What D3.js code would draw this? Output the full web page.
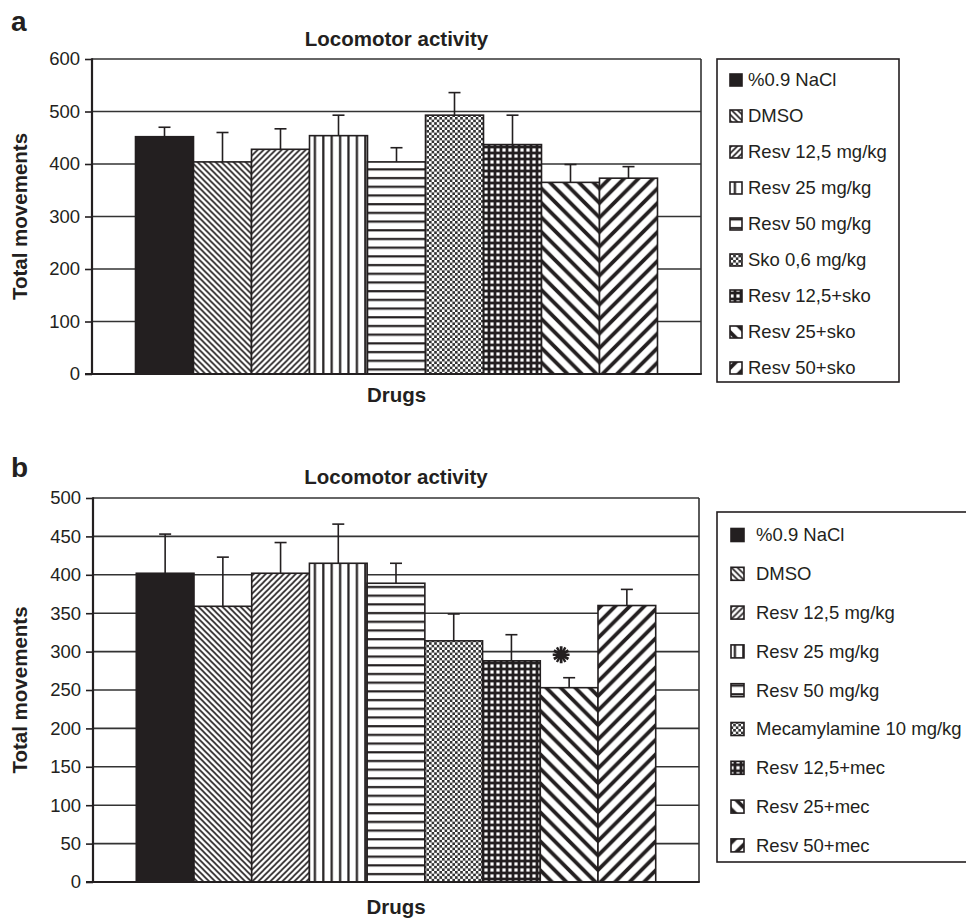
<!DOCTYPE html>
<html><head><meta charset="utf-8">
<script src="https://cdn.jsdelivr.net/npm/d3@7"></script>
<style>body{margin:0;background:#fff}svg{display:block}</style>
</head><body>
<svg id="c" width="966" height="919"></svg>
<script>
// ---------- data ----------
const seriesA = ["%0.9 NaCl","DMSO","Resv 12,5 mg/kg","Resv 25 mg/kg","Resv 50 mg/kg","Sko 0,6 mg/kg","Resv 12,5+sko","Resv 25+sko","Resv 50+sko"];
const valuesA = [452,404,428,454,404,493,437,365,373];
const errorsA = [18,56,39,39,27,43,56,34,22];
const ticksA  = [0,100,200,300,400,500,600];

const seriesB = ["%0.9 NaCl","DMSO","Resv 12,5 mg/kg","Resv 25 mg/kg","Resv 50 mg/kg","Mecamylamine 10 mg/kg","Resv 12,5+mec","Resv 25+mec","Resv 50+mec"];
const valuesB = [402,359,402,415,389,314,288,253,360];
const errorsB = [51,64,40,51,26,35,34,13,21];
const ticksB  = [0,50,100,150,200,250,300,350,400,450,500];
const signifB = [false,false,false,false,false,false,false,true,false];

const chartTitle = "Locomotor activity";
const yTitle = "Total movements";
const xTitle = "Drugs";

// ---------- style ----------
const INK = "#231f20";
const FONT = "Arial, 'Liberation Sans', sans-serif";
const patternKinds = ["solid","down","up","vert","horiz","checker","plus","downWide","upWide"];

const svg = d3.select("#c");
const defs = svg.append("defs");

function makePatterns(prefix, x0, x1) {
  const P = {};
  patternKinds.forEach(k => P[k] = prefix + "-" + k);
  let p = defs.append("pattern").attr("id",P.down).attr("patternUnits","userSpaceOnUse")
    .attr("width",6).attr("height",6).attr("patternTransform",`translate(${x0},0)`);
  p.append("rect").attr("width",6).attr("height",6).attr("fill","#fff");
  p.append("path").attr("d","M-1,-1L7,7M-1,5L1,7M5,-1L7,1").attr("stroke",INK).attr("stroke-width",1.6);
  p = defs.append("pattern").attr("id",P.up).attr("patternUnits","userSpaceOnUse")
    .attr("width",6).attr("height",6).attr("patternTransform",`translate(${x0},0)`);
  p.append("rect").attr("width",6).attr("height",6).attr("fill","#fff");
  p.append("path").attr("d","M-1,7L7,-1M-1,1L1,-1M5,7L7,5").attr("stroke",INK).attr("stroke-width",1.6);
  p = defs.append("pattern").attr("id",P.vert).attr("patternUnits","userSpaceOnUse").attr("width",8.4).attr("height",10);
  p.append("rect").attr("width",8.4).attr("height",10).attr("fill","#fff");
  p.append("rect").attr("x",3).attr("width",2.2).attr("height",10).attr("fill",INK);
  p = defs.append("pattern").attr("id",P.horiz).attr("patternUnits","userSpaceOnUse").attr("width",10).attr("height",8.7);
  p.append("rect").attr("width",10).attr("height",8.7).attr("fill","#fff");
  p.append("rect").attr("y",3).attr("width",10).attr("height",2.2).attr("fill",INK);
  p = defs.append("pattern").attr("id",P.checker).attr("patternUnits","userSpaceOnUse").attr("width",5.2).attr("height",5.2);
  p.append("rect").attr("width",5.2).attr("height",5.2).attr("fill","#fff");
  p.append("rect").attr("width",2.6).attr("height",2.6).attr("fill","#333");
  p.append("rect").attr("x",2.6).attr("y",2.6).attr("width",2.6).attr("height",2.6).attr("fill","#333");
  p = defs.append("pattern").attr("id",P.plus).attr("patternUnits","userSpaceOnUse").attr("width",6).attr("height",6);
  p.append("rect").attr("width",6).attr("height",6).attr("fill","#fff");
  p.append("rect").attr("y",1.6).attr("width",6).attr("height",2.8).attr("fill",INK);
  p.append("rect").attr("x",1.6).attr("width",2.8).attr("height",6).attr("fill",INK);
  const W = 14.5;
  p = defs.append("pattern").attr("id",P.downWide).attr("patternUnits","userSpaceOnUse")
    .attr("width",W).attr("height",W).attr("patternTransform",`translate(${x1},0)`);
  p.append("rect").attr("width",W).attr("height",W).attr("fill","#fff");
  p.append("path").attr("d",`M-2,-2L${W+2},${W+2}M-2,${W-2}L2,${W+2}M${W-2},-2L${W+2},2`).attr("stroke",INK).attr("stroke-width",3.8);
  p = defs.append("pattern").attr("id",P.upWide).attr("patternUnits","userSpaceOnUse")
    .attr("width",W).attr("height",W).attr("patternTransform",`translate(${x1},0)`);
  p.append("rect").attr("width",W).attr("height",W).attr("fill","#fff");
  p.append("path").attr("d",`M-2,${W+2}L${W+2},-2M-2,2L2,-2M${W-2},${W+2}L${W+2},${W-2}`).attr("stroke",INK).attr("stroke-width",3.8);
  return P;
}

function fillFor(P, k) { return k === "solid" ? INK : `url(#${P[k]})`; }

function drawPanel(cfg) {
  const f = cfg.frame;
  const x = d3.scaleBand().domain(cfg.series).range([f.left, f.right]).paddingInner(0).paddingOuter(0.75);
  const y = d3.scaleLinear().domain([0, d3.max(cfg.ticks)]).range([f.bottom, f.top]);
  const P = makePatterns(cfg.id, x(cfg.series[2]), x(cfg.series[8]));
  const g = svg.append("g");

  g.append("g").selectAll("line").data(cfg.ticks.filter(t => t > 0)).join("line")
    .attr("x1", f.left).attr("x2", f.right).attr("y1", d => y(d)).attr("y2", d => y(d))
    .attr("stroke", "#333").attr("stroke-width", 1.6);
  g.append("line").attr("x1", f.right).attr("x2", f.right).attr("y1", f.top).attr("y2", f.bottom)
    .attr("stroke", "#333").attr("stroke-width", 1.6);

  const data = cfg.series.map((s, i) => ({s, v: cfg.values[i], e: cfg.errors[i], k: patternKinds[i], i}));
  g.append("g").selectAll("rect").data(data).join("rect")
    .attr("x", d => x(d.s)).attr("width", x.bandwidth())
    .attr("y", d => y(d.v)).attr("height", d => y(0) - y(d.v))
    .attr("fill", d => fillFor(P, d.k)).attr("stroke", INK).attr("stroke-width", 1.6);

  const eg = g.append("g").attr("stroke", INK).attr("stroke-width", 1.6);
  eg.selectAll("line.v").data(data).join("line").attr("class","v")
    .attr("x1", d => x(d.s) + x.bandwidth()/2).attr("x2", d => x(d.s) + x.bandwidth()/2)
    .attr("y1", d => y(d.v)).attr("y2", d => y(d.v + d.e));
  eg.selectAll("line.c").data(data).join("line").attr("class","c")
    .attr("x1", d => x(d.s) + x.bandwidth()/2 - 6).attr("x2", d => x(d.s) + x.bandwidth()/2 + 6)
    .attr("y1", d => y(d.v + d.e)).attr("y2", d => y(d.v + d.e));

  if (cfg.signif) {
    data.filter(d => cfg.signif[d.i]).forEach(d => {
      const cx = x(d.s) + x.bandwidth()/2 - 8, cy = y(d.v + d.e) - 23;
      const sym = d3.symbol(d3.symbolAsterisk, 200)();
      g.append("path").attr("d", sym).attr("transform", `translate(${cx},${cy})`)
        .attr("stroke", INK).attr("stroke-width", 2.8).attr("fill","none");
      g.append("path").attr("d", sym).attr("transform", `translate(${cx},${cy}) rotate(30)`)
        .attr("stroke", INK).attr("stroke-width", 2.4).attr("fill","none");
      g.append("circle").attr("cx", cx).attr("cy", cy).attr("r", 4.5).attr("fill", INK);
    });
  }

  const ax = g.append("g").attr("transform", `translate(${f.left},0)`)
    .call(d3.axisLeft(y).tickValues(cfg.ticks).tickSize(7).tickPadding(5));
  ax.select(".domain").remove();
  ax.selectAll(".tick line").attr("stroke", INK).attr("stroke-width", 1.6);
  ax.selectAll(".tick text").attr("fill", INK).style("font-family", FONT).style("font-size", "18.5px");
  g.append("line").attr("x1", f.left).attr("x2", f.left).attr("y1", f.top - 0.8).attr("y2", f.bottom + 1)
    .attr("stroke", INK).attr("stroke-width", 2.2);
  g.append("line").attr("x1", f.left - 7).attr("x2", f.right + 0.8).attr("y1", f.bottom).attr("y2", f.bottom)
    .attr("stroke", INK).attr("stroke-width", 2.2);

  const cx = (f.left + f.right) / 2;
  g.append("text").attr("x", cx).attr("y", cfg.titleY).attr("text-anchor","middle")
    .style("font-family", FONT).style("font-weight","bold").style("font-size","20.5px").attr("fill", INK).text(chartTitle);
  g.append("text").attr("x", cx).attr("y", cfg.xTitleY).attr("text-anchor","middle")
    .style("font-family", FONT).style("font-weight","bold").style("font-size","20.5px").attr("fill", INK).text(xTitle);
  g.append("text").attr("transform", `translate(27,${(f.top + f.bottom)/2}) rotate(-90)`).attr("text-anchor","middle")
    .style("font-family", FONT).style("font-weight","bold").style("font-size","20.5px").attr("fill", INK).text(yTitle);
  g.append("text").attr("x", 11).attr("y", cfg.labelY)
    .style("font-family", FONT).style("font-weight","bold").style("font-size","28px").attr("fill", INK).text(cfg.label);

  const L = cfg.legend;
  g.append("rect").attr("x", L.x).attr("y", L.y).attr("width", L.w).attr("height", L.h)
    .attr("fill", "#fff").attr("stroke", INK).attr("stroke-width", 1.6);
  const li = g.append("g").selectAll("g").data(data).join("g")
    .attr("transform", d => `translate(0,${L.firstY + d.i * L.step})`);
  li.append("rect").attr("x", L.swX).attr("y", -L.sw/2).attr("width", L.sw).attr("height", L.sw)
    .attr("fill", d => fillFor(P, d.k)).attr("stroke", INK).attr("stroke-width", 1.6);
  li.append("text").attr("x", L.textX).attr("dy", "0.35em")
    .style("font-family", FONT).style("font-size", "18.5px").attr("fill", INK).text(d => d.s);
}

drawPanel({
  id: "a", label: "a", series: seriesA, values: valuesA, errors: errorsA, ticks: ticksA,
  frame: {left: 92, right: 701, top: 59, bottom: 374},
  titleY: 46, xTitleY: 402, labelY: 31,
  legend: {x: 717, y: 59, w: 182, h: 323, firstY: 80, step: 36, swX: 730, sw: 12, textX: 748}
});
drawPanel({
  id: "b", label: "b", series: seriesB, values: valuesB, errors: errorsB, ticks: ticksB, signif: signifB,
  frame: {left: 93, right: 699, top: 498, bottom: 882},
  titleY: 484, xTitleY: 914, labelY: 477,
  legend: {x: 717, y: 512, w: 260, h: 350, firstY: 535, step: 38.8, swX: 731, sw: 13, textX: 756}
});
</script>
</body></html>
